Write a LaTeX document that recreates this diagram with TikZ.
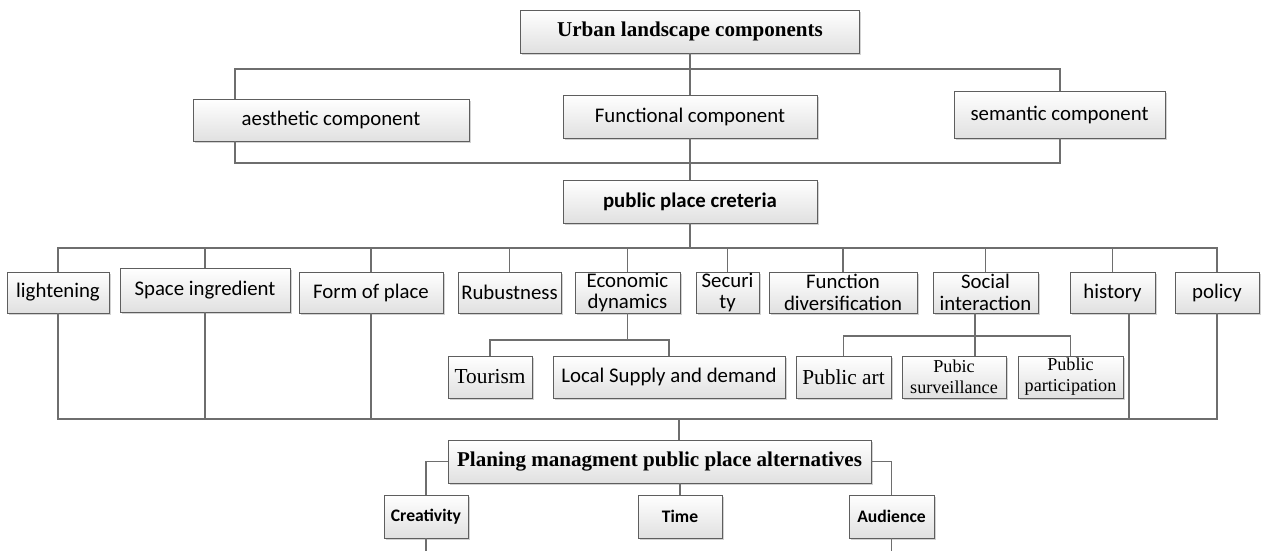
\documentclass[tikz,border=0pt]{standalone}
\usepackage{fontspec}
\setmainfont{Liberation Serif}
\newfontfamily\calib{Carlito}
\usetikzlibrary{shadows}
\definecolor{edge}{HTML}{5E5E5E}
\definecolor{wire}{HTML}{6E6E6E}
\tikzset{
  bx/.style 2 args={draw=edge, line width=0.7pt, top color=white, bottom color=black!12,
    drop shadow={shadow xshift=1.2pt, shadow yshift=-1.2pt, fill=black!35, opacity=0.5},
    minimum width=#1*0.75pt, minimum height=#2*0.75pt, inner sep=0pt, align=center,
    font=\calib\fontsize{15.6}{17}\selectfont},
  ln/.style={draw=wire, line width=0.8pt},
  serifbold/.style={font=\bfseries\fontsize{15.8}{17}\selectfont},
  twoline/.style={font=\calib\fontsize{15.6}{16.2}\selectfont},
  smallserif/.style={font=\fontsize{13.6}{15.6}\selectfont},
  smallbold/.style={font=\calib\bfseries\fontsize{13.2}{15}\selectfont},
}
\begin{document}
\begin{tikzpicture}[x=0.75pt,y=-0.75pt]
\useasboundingbox (0,0) rectangle (1262,551);

% top level
\node[bx={339}{43}, serifbold] (top) at (690,31.5) {Urban landscape components};
\node[bx={276}{42}] (aes) at (331,120) {aesthetic component};
\node[bx={254}{43}] (fun) at (690,116.5) {Functional component};
\node[bx={211}{47}] (sem) at (1059.5,114.5) {semantic component};
\node[bx={254}{43}, font=\calib\bfseries\fontsize{15.6}{17}\selectfont] (pub) at (690,201.5) {public place creteria};

% criteria row
\node[bx={102}{41}] (light) at (58,292.5) {lightening};
\node[bx={170}{44}] (space) at (205,290) {Space ingredient};
\node[bx={144}{41}] (form) at (371,292.5) {Form of place};
\node[bx={103}{41}] (rub) at (509.5,292.5) {Rubustness};
\node[bx={105}{41}, twoline] (econ) at (627.5,292.5) {Economic\\dynamics};
\node[bx={63}{41}, twoline] (sec) at (727.5,292.5) {Securi\\ty};
\node[bx={148}{41}, twoline] (fdiv) at (843,292.5) {Function\\diversification};
\node[bx={105}{41}, twoline] (soc) at (985.5,292.5) {Social\\interaction};
\node[bx={85}{41}] (hist) at (1112.5,292.5) {history};
\node[bx={84}{41}] (pol) at (1217,292.5) {policy};

% sub-criteria row
\node[bx={84}{42}, font=\fontsize{16}{18}\selectfont] (tour) at (490,377) {Tourism};
\node[bx={232}{42}] (local) at (669,377) {Local Supply and demand};
\node[bx={95}{42}, font=\fontsize{16}{18}\selectfont] (part) at (843.5,377) {Public art};
\node[bx={104}{42}, smallserif] (surv) at (954,377) {Pubic\\surveillance};
\node[bx={105}{42}, smallserif] (ppart) at (1070.5,377) {Public\\participation};

% alternatives
\node[bx={423}{43}, serifbold] (plan) at (659.5,461.5) {Planing managment public place alternatives};
\node[bx={84}{43}, smallbold] (crea) at (426,516.5) {Creativity};
\node[bx={84}{43}, smallbold] (time) at (680,516.5) {Time};
\node[bx={85}{43}, smallbold] (aud) at (891.5,516.5) {Audience};

% junction points
\coordinate (b1w) at (235,69);  \coordinate (b1e) at (1060,69);
\coordinate (b2w) at (235,163); \coordinate (b2e) at (1060,163);
\coordinate (r1) at (690,248);
\coordinate (r2) at (679,419);
\coordinate (hx) at (1129,419);
\coordinate (e1) at (627.5,340);
\coordinate (s1) at (975,336);
\coordinate (bot) at (0,551);

% component frame
\draw[ln] (aes.north -| b1w) -- (b1w) -- (b1e) -- (sem.north -| b1e);
\draw[ln] (aes.south -| b2w) -- (b2w) -- (b2e) -- (sem.south -| b2e);
\draw[ln] (top.south) -- (fun.north);
\draw[ln] (fun.south) -- (pub.north);

% criteria bus
\draw[ln] (pub.south) -- (r1);
\foreach \n in {light,space,form,rub,econ,sec,fdiv,soc,hist,pol}
  \draw[ln] (\n.north) |- (r1);

% collecting bus
\foreach \n in {light,space,form,pol}
  \draw[ln] (\n.south) |- (r2);
\draw[ln] (hist.south -| hx) -- (hx) -- (r2);
\draw[ln] (r2) -- (plan.north -| r2);

% economic dynamics branch
\draw[ln] (econ.south) -- (e1);
\draw[ln] (tour.north) |- (e1);
\draw[ln] (local.north) |- (e1);

% social interaction branch
\draw[ln] (soc.south -| s1) -- (surv.north -| s1);
\draw[ln] (part.north) |- (s1);
\draw[ln] (ppart.north) |- (s1);

% alternatives
\draw[ln] (plan.west) -| (crea.north);
\draw[ln] (plan.east) -| (aud.north);
\draw[ln] (time.north) -- (time.north |- plan.south);
\draw[ln] (crea.south) -- (crea.south |- bot);
\draw[ln] (aud.south) -- (aud.south |- bot);
\end{tikzpicture}
\end{document}
